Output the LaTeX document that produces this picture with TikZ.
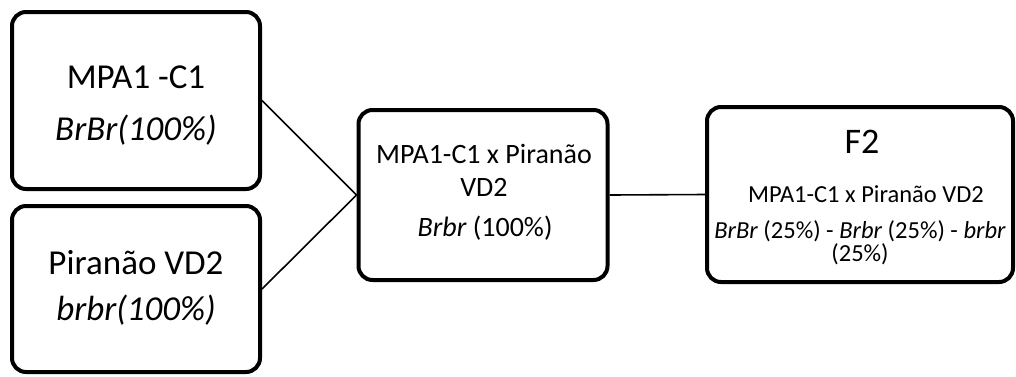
\documentclass[tikz,border=0pt]{standalone}
\usepackage{fontspec}
\setmainfont{Carlito}
\begin{document}
\begin{tikzpicture}[x=1pt,y=-1pt,
  box/.style={draw=black,line width=4pt,rounded corners=14pt,fill=white,inner sep=0pt},
  link/.style={draw=black,line width=1.6pt},
  big/.style={anchor=base,inner sep=0pt,font=\fontsize{35}{40}\selectfont},
  mid/.style={anchor=base,inner sep=0pt,font=\fontsize{28}{34}\selectfont},
  tiny/.style={anchor=base,inner sep=0pt,font=\fontsize{24.5}{30}\selectfont}]
\useasboundingbox (0,0) rectangle (1016,376);
\node[box,minimum width=248pt,minimum height=177pt] (b1) at (136,100.5) {};
\node[box,minimum width=248pt,minimum height=166pt] (b2) at (136,289) {};
\node[box,minimum width=249pt,minimum height=170pt] (b3) at (483,195) {};
\node[box,minimum width=306pt,minimum height=175pt] (b4) at (860,194.5) {};
\draw[link] (b1.east) -- (b3.west);
\draw[link] (b2.east) -- (b3.west);
\draw[link] (b3.east) -- (b4.west);
\node[big] (t1a) at (136,88.5) {MPA1 -C1};
\node[big] (t1b) at (136,140) {\itshape BrBr(100\%)};
\node[big] (t2a) at (136,274) {Piranão VD2};
\node[big] (t2b) at (136,320) {\itshape brbr(100\%)};
\node[mid] (t3a) at (484,163) {MPA1-C1 x Piranão};
\node[mid] (t3b) at (484,196) {VD2};
\node[mid] (t3c) at (485,236) {\textit{Brbr} (100\%)};
\node[anchor=base,inner sep=0pt,font=\fontsize{36}{40}\selectfont] (t4a) at (862,153) {F2};
\node[tiny] (t4b) at (866,202) {MPA1-C1 x Piranão VD2};
\node[tiny] (t4c) at (860,238) {\textit{BrBr} (25\%) - \textit{Brbr} (25\%) - \textit{brbr}};
\node[tiny] (t4d) at (860,261) {(25\%)};
\end{tikzpicture}
\end{document}
